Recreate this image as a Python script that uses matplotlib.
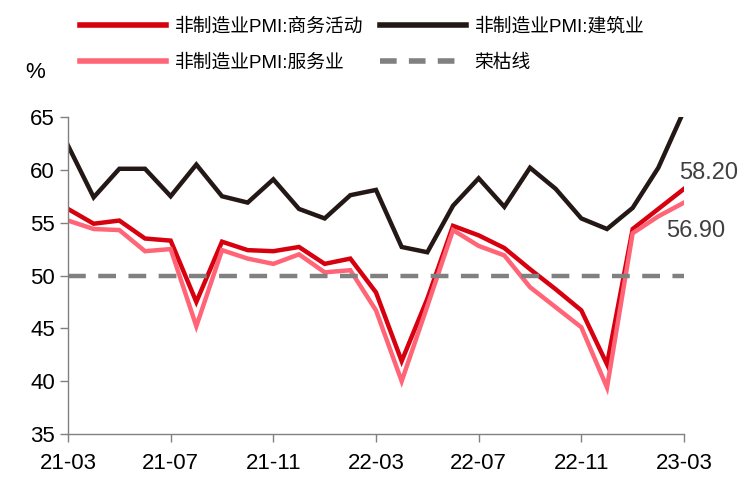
import matplotlib
matplotlib.use("Agg")
import matplotlib.pyplot as plt
from matplotlib.lines import Line2D

plt.rcParams['font.family'] = ['Liberation Sans', 'Noto Sans CJK SC']

months = ['21-03', '21-04', '21-05', '21-06', '21-07', '21-08', '21-09', '21-10', '21-11', '21-12',
          '22-01', '22-02', '22-03', '22-04', '22-05', '22-06', '22-07', '22-08', '22-09', '22-10',
          '22-11', '22-12', '23-01', '23-02', '23-03']
business = [56.3, 54.9, 55.2, 53.5, 53.3, 47.5, 53.2, 52.4, 52.3, 52.7, 51.1, 51.6, 48.4, 41.9, 47.8,
            54.7, 53.8, 52.6, 50.6, 48.7, 46.7, 41.6, 54.4, 56.3, 58.2]
construction = [62.3, 57.4, 60.1, 60.1, 57.5, 60.5, 57.5, 56.9, 59.1, 56.3, 55.4, 57.6, 58.1, 52.7, 52.2,
                56.6, 59.2, 56.5, 60.2, 58.2, 55.4, 54.4, 56.4, 60.2, 65.6]
services = [55.2, 54.4, 54.3, 52.3, 52.5, 45.2, 52.4, 51.6, 51.1, 52.0, 50.3, 50.5, 46.7, 40.0, 47.1,
            54.3, 52.8, 51.9, 48.9, 47.0, 45.1, 39.4, 54.0, 55.6, 56.9]
threshold = 50
yticks = [35, 40, 45, 50, 55, 60, 65]
xtick_idx = [0, 4, 8, 12, 16, 20, 24]

labels = ['非制造业PMI:商务活动', '非制造业PMI:建筑业', '非制造业PMI:服务业', '荣枯线']
c_bus, c_con, c_ser, c_thr = '#D7000F', '#231815', '#FF6477', '#808080'

fig = plt.figure(figsize=(7.47, 4.86), dpi=100)
ax = fig.add_axes([68/747, 52/486, 616/747, 317/486])

x = list(range(len(months)))
lw = 3.2
ax.plot(x, business, color=c_bus, lw=lw, solid_joinstyle='miter')
ax.plot(x, construction, color=c_con, lw=lw, solid_joinstyle='miter')
ax.plot(x, services, color=c_ser, lw=lw, solid_joinstyle='miter')
ax.plot([x[0], x[-1]], [threshold, threshold], color=c_thr, lw=lw, dashes=(4, 2.8))

ax.set_xlim(0, 24)
ax.set_ylim(35, 65)
ax.set_yticks(yticks)
ax.set_xticks(xtick_idx)
ax.set_xticklabels([months[i] for i in xtick_idx])
for s in ['top', 'right']:
    ax.spines[s].set_visible(False)
for s in ['left', 'bottom']:
    ax.spines[s].set_color('#808080')
    ax.spines[s].set_linewidth(1)
ax.tick_params(axis='both', colors='#808080', labelcolor='black', labelsize=16, length=6, width=1)
ax.tick_params(axis='x', pad=8)

ax.annotate(f'{business[-1]:.2f}', xy=(24, business[-1]), xytext=(-5, 16), textcoords='offset pixels',
            ha='left', va='center', fontsize=17, color='#404040', annotation_clip=False)
ax.annotate(f'{services[-1]:.2f}', xy=(24, services[-1]), xytext=(-18, -28), textcoords='offset pixels',
            ha='left', va='center', fontsize=17, color='#404040', annotation_clip=False)

fig.text(25/747, 1 - 72/486, '%', fontsize=16, va='center', ha='left')

handles = [Line2D([], [], color=c_bus, lw=4),
           Line2D([], [], color=c_ser, lw=4),
           Line2D([], [], color=c_con, lw=4),
           Line2D([], [], color=c_thr, lw=4, dashes=(3, 2.2))]
hl = [labels[0], labels[2], labels[1], labels[3]]
fig.legend(handles, hl, ncol=2, loc='upper left', bbox_to_anchor=(63/747, 1 - 1/486),
           frameon=False, fontsize=13.5, handlelength=4.6, handletextpad=0.45,
           columnspacing=0.9, labelspacing=1.0)

fig.savefig('out.png', dpi=100)
